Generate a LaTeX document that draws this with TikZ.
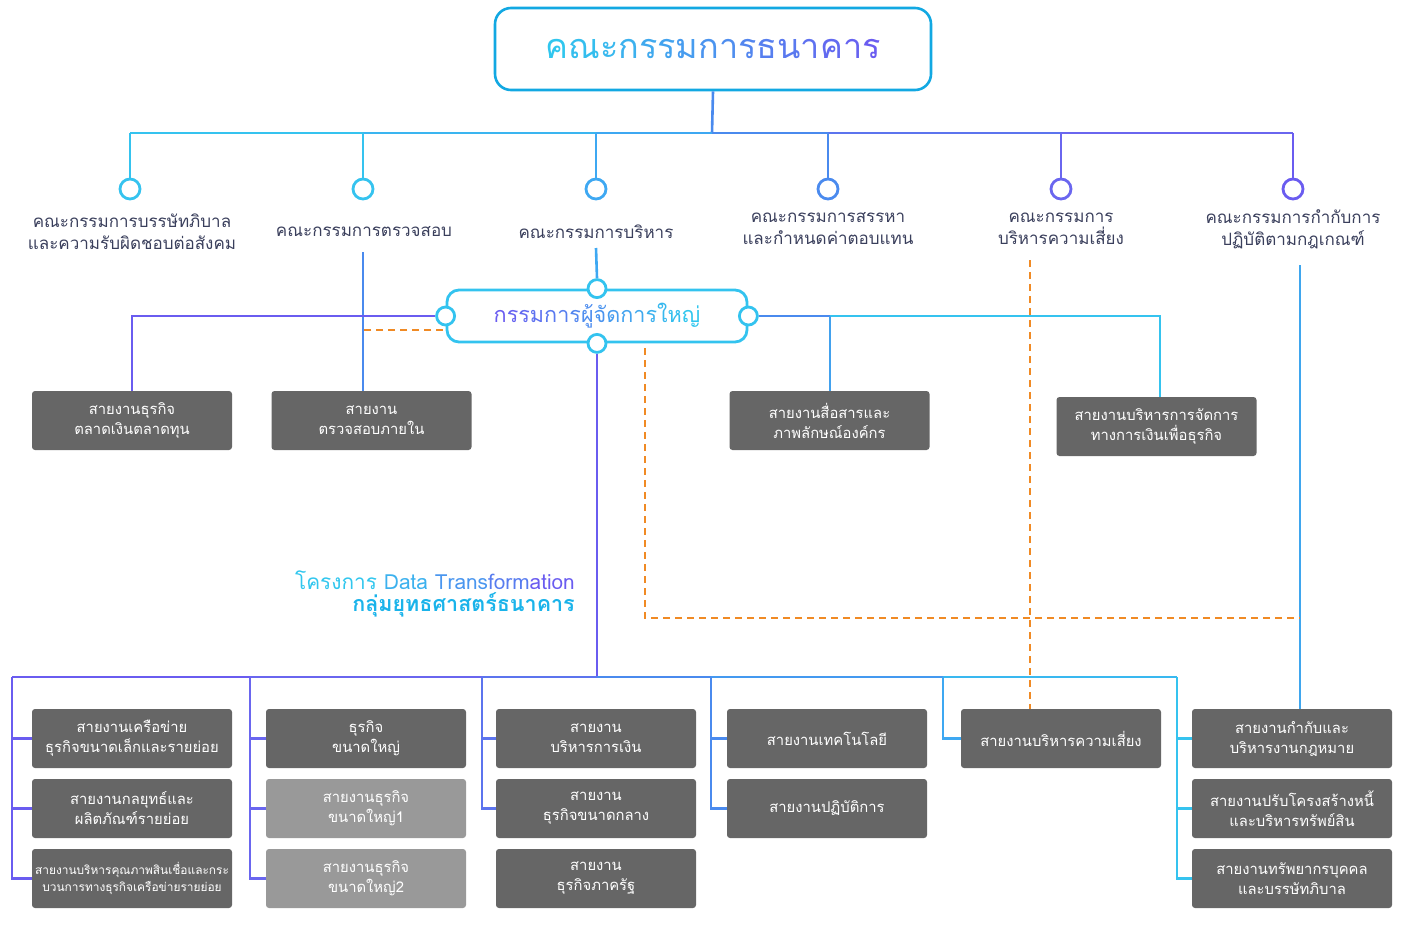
\documentclass[tikz,border=0pt]{standalone}
\usepackage{fontspec}
\newfontfamily\thai[Script=Thai]{Loma}
\usetikzlibrary{calc}
\definecolor{gC}{HTML}{30C6EE}
\definecolor{gP}{HTML}{6A5CF0}
\definecolor{cA}{HTML}{35C3EF}
\definecolor{cB}{HTML}{3EA8F2}
\definecolor{cC}{HTML}{4A8AEE}
\definecolor{cD}{HTML}{5C74EE}
\definecolor{cE}{HTML}{6A66EF}
\definecolor{titleblue}{HTML}{12A8E2}
\definecolor{ceoblue}{HTML}{33C3EF}
\definecolor{boxgray}{HTML}{666666}
\definecolor{lightgray}{HTML}{999999}
\definecolor{labelc}{HTML}{3A3F5C}
\definecolor{dashor}{HTML}{F08A24}
\definecolor{projc}{HTML}{1AB3EA}
\newcommand\gc[2]{\textcolor{gP!#1!gC}{#2}}
\tikzset{
  conn/.style={line width=2.6pt},
  odash/.style={draw=dashor,line width=2pt,dash pattern=on 7pt off 5pt},
  knob/.style={circle,draw,line width=2.8pt,fill=white,minimum size=20pt,inner sep=0pt},
  ceoknob/.style={circle,draw=ceoblue,line width=2.8pt,fill=white,minimum size=18pt,inner sep=0pt},
  clabel/.style={font=\thai\fontsize{17}{22}\selectfont,text=labelc,align=center,inner sep=0pt},
  unit/.style={fill=boxgray,rounded corners=3pt,minimum width=200pt,minimum height=59pt,inner sep=0pt,
     text=white,align=center,font=\thai\fontsize{14.8}{20}\selectfont},
  unitl/.style={unit,fill=lightgray},
}
\begin{document}
\begin{tikzpicture}[x=1pt,y=-1pt]
\useasboundingbox (0,0) rectangle (1407,926);
% board
\node[draw=titleblue,line width=2.6pt,rounded corners=16pt,minimum width=436pt,minimum height=82pt,
  font=\thai\fontsize{34.2}{36}\selectfont] (board) at (713,49)
  {\gc{0}{ค}\gc{7}{ณ}\gc{13}{ะ}\gc{20}{ก}\gc{27}{ร}\gc{33}{ร}\gc{40}{ม}\gc{47}{ก}\gc{53}{า}\gc{60}{ร}\gc{67}{ธ}\gc{73}{น}\gc{80}{า}\gc{87}{ค}\gc{93}{า}\gc{100}{ร}};
% bus coordinates
\coordinate (bt) at (712,133);
\coordinate (b1) at (130,133);
\coordinate (b2) at (363,133);
\coordinate (b3) at (596,133);
\coordinate (b4) at (828,133);
\coordinate (b5) at (1061,133);
\coordinate (b6) at (1293,133);
% knobs
\node[knob,draw=cA] (k1) at (130,189) {};
\node[knob,draw=cA] (k2) at (363,189) {};
\node[knob,draw=cB] (k3) at (596,189) {};
\node[knob,draw=cC] (k4) at (828,189) {};
\node[knob,draw=cE] (k5) at (1061,189) {};
\node[knob,draw=gP] (k6) at (1293,189) {};
\draw[conn,draw=cC] (board.south) -- (bt);
\draw[conn,draw=cA] (b1) -- (b2);
\draw[conn,draw=cA!50!cB] (b2) -- (b3);
\draw[conn,draw=cB] (b3) -- (bt);
\draw[conn,draw=cC] (bt) -- (b4);
\draw[conn,draw=cD] (b4) -- (b5);
\draw[conn,draw=cE] (b5) -- (b6);
\draw[conn,draw=cA] (b1) -- (k1.north);
\draw[conn,draw=cA] (b2) -- (k2.north);
\draw[conn,draw=cB] (b3) -- (k3.north);
\draw[conn,draw=cC] (b4) -- (k4.north);
\draw[conn,draw=cE] (b5) -- (k5.north);
\draw[conn,draw=gP] (b6) -- (k6.north);
% committee labels
\node[clabel] (l1) at (132,232) {คณะกรรมการบรรษัทภิบาล\\และความรับผิดชอบต่อสังคม};
\node[clabel] (l2) at (364,232) {คณะกรรมการตรวจสอบ};
\node[clabel] (l3) at (596,232) {คณะกรรมการบริหาร};
\node[clabel] (l4) at (828,229) {คณะกรรมการสรรหา\\และกำหนดค่าตอบแทน};
\node[clabel] (l5) at (1061,229) {คณะกรรมการ\\บริหารความเสี่ยง};
\node[clabel] (l6) at (1293,229) {คณะกรรมการกำกับการ\\ปฏิบัติตามกฎเกณฑ์};
\coordinate (l2b) at (363,252);
\coordinate (l3b) at (596,248);
\coordinate (l5b) at (1030,260);
\coordinate (l6b) at (1300,265);
% CEO
\node[draw=ceoblue,line width=2.8pt,rounded corners=12pt,minimum width=300pt,minimum height=52pt,
  font=\thai\fontsize{21.6}{24}\selectfont] (ceo) at (597,316)
  {\gc{100}{ก}\gc{93}{ร}\gc{87}{ร}\gc{80}{ม}\gc{73}{ก}\gc{67}{า}\gc{60}{ร}\gc{53}{ผู้}\gc{47}{จั}\gc{40}{ด}\gc{33}{ก}\gc{27}{า}\gc{20}{ร}\gc{13}{ใ}\gc{7}{ห}\gc{0}{ญ่}};
\node[ceoknob] (cl) at (ceo.west) {};
\node[ceoknob] (cr) at (ceo.east) {};
\node[ceoknob] (ct) at (ceo.north) {};
\node[ceoknob] (cb) at (ceo.south) {};
% middle units
\node[unit] (m1) at (132,420.5) {สายงานธุรกิจ\\ตลาดเงินตลาดทุน};
\node[unit] (m2) at (371.5,420.5) {สายงาน\\ตรวจสอบภายใน};
\node[unit] (m3) at (829.5,420.5) {สายงานสื่อสารและ\\ภาพลักษณ์องค์กร};
\node[unit] (m4) at (1156.5,426.5) {สายงานบริหารการจัดการ\\ทางการเงินเพื่อธุรกิจ};
\draw[conn,draw=cC] (l2b) -- (l2b |- m2.north);
\draw[conn,draw=cB] (l3b) -- (ct.north);
\draw[conn,draw=gP] (cl.west) -| (m1.north);
\coordinate (jr) at (830,316);
\coordinate (jr2) at (1160,316);
\draw[conn,draw=cC] (cr.east) -- (jr);
\draw[conn,draw=cA] (jr) -- (jr2) -- (jr2 |- m4.north);
\draw[conn,draw=cC!60!cA] (jr) -- (jr |- m3.north);
\coordinate (od1) at (443,330);
\draw[odash] (od1) -- (l2b |- od1);
% project label
\node[anchor=east,inner sep=0pt,font=\thai\fontsize{20.8}{22}\selectfont] (proj) at (575,580)
  {\textcolor{gC}{โครงการ} \textcolor{gP!20!gC}{Data} \textcolor{gP!45!gC}{Trans}\textcolor{gP!70!gC}{form}\textcolor{gP}{ation}};
\node[anchor=east,inner sep=0pt,font=\thai\bfseries\fontsize{21.5}{22}\selectfont,text=projc] (grp) at (575,605)
  {กลุ่มยุทธศาสตร์ธนาคาร};
% bottom bus
\coordinate (bc) at (597,677);
\coordinate (bb1) at (12,677);
\coordinate (bb2) at (250,677);
\coordinate (bb3) at (482,677);
\coordinate (bb4) at (711,677);
\coordinate (bb5) at (943,677);
\coordinate (bb6) at (1177,677);
\draw[conn,draw=gP] (cb.south) -- (bc);
% bottom units
\node[unit] (r1a) at (132,738.5) {สายงานเครือข่าย\\ธุรกิจขนาดเล็กและรายย่อย};
\node[unit] (r1b) at (132,808.5) {สายงานกลยุทธ์และ\\ผลิตภัณฑ์รายย่อย};
\node[unit,font=\thai\fontsize{11.9}{17}\selectfont] (r1c) at (132,878.5) {สายงานบริหารคุณภาพสินเชื่อและกระ\\บวนการทางธุรกิจเครือข่ายรายย่อย};
\node[unit] (r2a) at (366,738.5) {ธุรกิจ\\ขนาดใหญ่};
\node[unitl] (r2b) at (366,808.5) {สายงานธุรกิจ\\ขนาดใหญ่1};
\node[unitl] (r2c) at (366,878.5) {สายงานธุรกิจ\\ขนาดใหญ่2};
\node[unit] (r3a) at (596,738.5) {สายงาน\\บริหารการเงิน};
\node[unit] (r3b) at (596,808.5) {สายงาน\\ธุรกิจขนาดกลาง};
\node[unit] (r3c) at (596,878.5) {สายงาน\\ธุรกิจภาครัฐ};
\node[unit] (r4a) at (827,738.5) {สายงานเทคโนโลยี};
\node[unit] (r4b) at (827,808.5) {สายงานปฏิบัติการ};
\node[unit] (r5a) at (1061,738.5) {สายงานบริหารความเสี่ยง};
\node[unit] (r6a) at (1292,738.5) {สายงานกำกับและ\\บริหารงานกฎหมาย};
\node[unit] (r6b) at (1292,808.5) {สายงานปรับโครงสร้างหนี้\\และบริหารทรัพย์สิน};
\node[unit] (r6c) at (1292,878.5) {สายงานทรัพยากรบุคคล\\และบรรษัทภิบาล};
% bus segments
\draw[conn,draw=gP] (bb1) -- (bb2);
\draw[conn,draw=cE] (bb2) -- (bb3);
\draw[conn,draw=cD] (bb3) -- (bc);
\draw[conn,draw=cC] (bc) -- (bb4);
\draw[conn,draw=cC!50!cB] (bb4) -- (bb5);
\draw[conn,draw=cB!40!cA] (bb5) -- (bb6);
% branches
\draw[conn,draw=gP] (bb1) |- (r1a.west);
\draw[conn,draw=gP] (bb1) |- (r1b.west);
\draw[conn,draw=gP] (bb1) |- (r1c.west);
\draw[conn,draw=cE] (bb2) |- (r2a.west);
\draw[conn,draw=cE] (bb2) |- (r2b.west);
\draw[conn,draw=cE] (bb2) |- (r2c.west);
\draw[conn,draw=cD] (bb3) |- (r3a.west);
\draw[conn,draw=cD] (bb3) |- (r3b.west);
\draw[conn,draw=cC] (bb4) |- (r4a.west);
\draw[conn,draw=cC] (bb4) |- (r4b.west);
\draw[conn,draw=cB] (bb5) |- (r5a.west);
\draw[conn,draw=cA] (bb6) |- (r6a.west);
\draw[conn,draw=cA] (bb6) |- (r6b.west);
\draw[conn,draw=cA] (bb6) |- (r6c.west);
% compliance line and dashed links
\draw[conn,draw=cC!50!cA] (l6b) -- (l6b |- r6a.north);
\draw[odash] (l5b) -- (l5b |- r5a.north);
\coordinate (od2) at (645,348);
\coordinate (od3) at (645,618);
\draw[odash] (od2) -- (od3) -- (l6b |- od3);
\end{tikzpicture}
\end{document}
